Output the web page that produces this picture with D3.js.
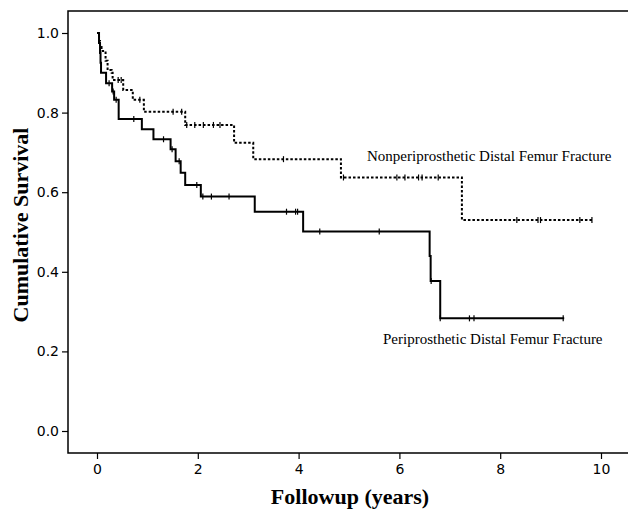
<!DOCTYPE html>
<html>
<head>
<meta charset="utf-8">
<script src="https://cdn.jsdelivr.net/npm/d3@7"></script>
<style>
  html, body { margin: 0; padding: 0; background: #fff; }
  svg { display: block; }
</style>
</head>
<body>
<svg id="chart" width="628" height="509"></svg>
<script>
// ---- Data ----
const xTicks = [0, 2, 4, 6, 8, 10];
const yTicks = [0.0, 0.2, 0.4, 0.6, 0.8, 1.0];

// Periprosthetic (solid) – step times and survival after each step
const periTimes    = [0, 0.04, 0.06, 0.07, 0.08, 0.18, 0.30, 0.34, 0.43, 0.89, 1.12, 1.46, 1.56, 1.66, 1.75, 2.06, 3.13, 4.09, 6.60, 6.62, 6.81, 9.27];
const periSurvival = [1.0, 0.975, 0.95, 0.925, 0.90, 0.874, 0.853, 0.832, 0.784, 0.758, 0.733, 0.708, 0.678, 0.649, 0.618, 0.589, 0.551, 0.501, 0.44, 0.377, 0.283, 0.283];
const periCensored = [0.24, 0.32, 0.38, 0.73, 1.32, 1.49, 1.63, 1.98, 2.10, 2.27, 2.62, 3.76, 3.94, 3.98, 4.42, 5.60, 6.63, 6.81, 7.39, 7.48, 9.25];

// Nonperiprosthetic (dotted)
const nonTimes    = [0, 0.04, 0.06, 0.09, 0.17, 0.21, 0.29, 0.31, 0.52, 0.71, 0.93, 1.75, 2.72, 3.10, 4.84, 7.24, 9.82];
const nonSurvival = [1.0, 0.98, 0.965, 0.955, 0.93, 0.907, 0.90, 0.882, 0.857, 0.832, 0.802, 0.769, 0.724, 0.683, 0.637, 0.530, 0.530];
const nonCensored = [0.42, 0.48, 0.85, 1.51, 1.68, 1.78, 1.94, 2.11, 2.31, 2.44, 3.70, 4.89, 5.95, 6.11, 6.38, 6.45, 6.77, 8.33, 8.75, 8.80, 9.58, 9.82];

const groupLabels = ["Nonperiprosthetic Distal Femur Fracture", "Periprosthetic Distal Femur Fracture"];

// ---- Layout ----
const svg = d3.select("#chart");
const frame = { left: 68, top: 11, right: 628, bottom: 453 };
const x = d3.scaleLinear().domain([0, 10]).range([97, 601]);
const y = d3.scaleLinear().domain([0, 1]).range([431, 33]);

// frame (top, left, bottom — no right border, as in the reference)
svg.append("path")
  .attr("d", `M${frame.right},${frame.top}H${frame.left}V${frame.bottom}H${frame.right}`)
  .attr("fill", "none").attr("stroke", "#000").attr("stroke-width", 1.5);

// y axis
const yAxis = d3.axisLeft(y).tickValues(yTicks).tickFormat(d3.format(".1f")).tickSize(6).tickPadding(3);
const gy = svg.append("g").attr("transform", `translate(${frame.left},0)`).call(yAxis);
gy.select(".domain").remove();

// x axis
const xAxis = d3.axisBottom(x).tickValues(xTicks).tickFormat(d3.format("d")).tickSize(6).tickPadding(5);
const gx = svg.append("g").attr("transform", `translate(0,${frame.bottom})`).call(xAxis);
gx.select(".domain").remove();

svg.selectAll(".tick line").attr("stroke", "#000").attr("stroke-width", 1.2);
svg.selectAll(".tick text")
  .attr("fill", "#000")
  .style("font-family", "'DejaVu Sans', sans-serif")
  .style("font-size", "14px");

// step lines
const line = d3.line()
  .x(d => x(d[0]))
  .y(d => y(d[1]))
  .curve(d3.curveStepAfter);

function stepData(times, surv) { return times.map((t, i) => [t, surv[i]]); }
function survAt(times, surv, t) {
  let s = surv[0];
  for (let i = 0; i < times.length; i++) { if (times[i] <= t) s = surv[i]; }
  return s;
}

svg.append("path")
  .datum(stepData(nonTimes, nonSurvival))
  .attr("d", line)
  .attr("fill", "none").attr("stroke", "#000")
  .attr("stroke-width", 2).attr("stroke-dasharray", "2.5,2");

svg.append("path")
  .datum(stepData(periTimes, periSurvival))
  .attr("d", line)
  .attr("fill", "none").attr("stroke", "#000")
  .attr("stroke-width", 2);

// censor marks
function drawCensor(list, times, surv) {
  svg.append("g").selectAll("line").data(list).join("line")
    .attr("x1", d => x(d)).attr("x2", d => x(d))
    .attr("y1", d => y(survAt(times, surv, d)) - 3)
    .attr("y2", d => y(survAt(times, surv, d)) + 3)
    .attr("stroke", "#000").attr("stroke-width", 1.2);
}
drawCensor(nonCensored, nonTimes, nonSurvival);
drawCensor(periCensored, periTimes, periSurvival);

// group labels
svg.append("text").text(groupLabels[0])
  .attr("x", 367).attr("y", y(0.678))
  .style("font-family", "'Liberation Serif', 'Times New Roman', serif")
  .style("font-size", "15px").attr("fill", "#000");
svg.append("text").text(groupLabels[1])
  .attr("x", 383).attr("y", y(0.218))
  .style("font-family", "'Liberation Serif', 'Times New Roman', serif")
  .style("font-size", "15px").attr("fill", "#000");

// axis titles
svg.append("text").text("Followup (years)")
  .attr("x", 350).attr("y", 504).attr("text-anchor", "middle")
  .style("font-family", "'Liberation Serif', 'Times New Roman', serif")
  .style("font-weight", "bold").style("font-size", "22px").attr("fill", "#000");

svg.append("text").text("Cumulative Survival")
  .attr("transform", "translate(28,225) rotate(-90)")
  .attr("text-anchor", "middle")
  .style("font-family", "'Liberation Serif', 'Times New Roman', serif")
  .style("font-weight", "bold").style("font-size", "22px").attr("fill", "#000");
</script>
</body>
</html>
